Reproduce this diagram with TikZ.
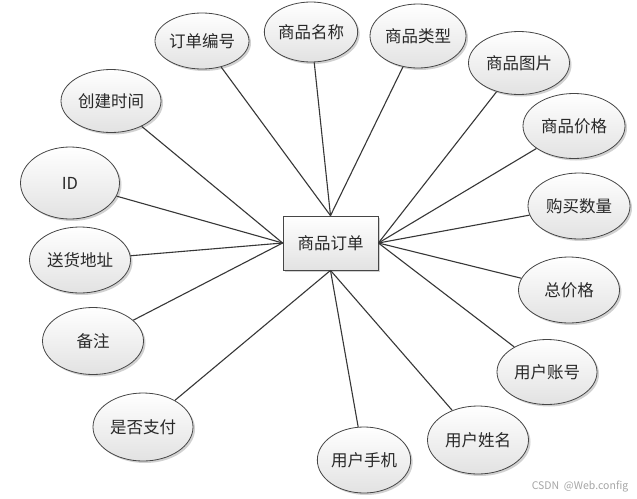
\documentclass[tikz,border=0pt]{standalone}
\usepackage{fontspec}
\setmainfont{Noto Sans CJK SC}
\usetikzlibrary{shapes.geometric,shadows}
\definecolor{edgec}{RGB}{70,70,70}
\definecolor{linec}{RGB}{55,55,55}
\definecolor{fillb}{RGB}{226,226,226}
\definecolor{textc}{RGB}{40,40,40}
\begin{document}
\begin{tikzpicture}[x=1pt,y=-1pt,
  attr/.style={ellipse, draw=edgec, line width=0.8pt, inner sep=0pt,
    top color=white, bottom color=fillb, text=textc,
    drop shadow={shadow xshift=2pt, shadow yshift=-2pt, fill=black!18, opacity=1},
    font=\fontsize{16.5}{19}\selectfont},
  entity/.style={rectangle, draw=edgec, line width=0.8pt, inner sep=0pt,
    top color=white, bottom color=fillb, text=textc,
    minimum width=95pt, minimum height=54pt,
    drop shadow={shadow xshift=2pt, shadow yshift=-2pt, fill=black!18, opacity=1},
    font=\fontsize{16.5}{19}\selectfont},
  link/.style={draw=linec, line width=1.1pt}]
\useasboundingbox (0,0) rectangle (637,498);
\fill[white] (0,0) rectangle (637,498);

\node[entity] (R) at (330.5,243) {商品订单};

\node[attr, minimum width=94pt, minimum height=56pt] (a1) at (202,41) {订单编号};
\node[attr, minimum width=93pt, minimum height=60pt] (a2) at (311,32) {商品名称};
\node[attr, minimum width=96pt, minimum height=64pt] (a3) at (418,36) {商品类型};
\node[attr, minimum width=101pt, minimum height=63pt] (a4) at (519,63) {商品图片};
\node[attr, minimum width=102pt, minimum height=65pt] (a5) at (574,126) {商品价格};
\node[attr, minimum width=102pt, minimum height=66pt] (a6) at (579,206) {购买数量};
\node[attr, minimum width=101pt, minimum height=66pt] (a7) at (569,290) {总价格};
\node[attr, minimum width=100pt, minimum height=65pt] (a8) at (547,372) {用户账号};
\node[attr, minimum width=101pt, minimum height=68pt] (a9) at (478,440) {用户姓名};
\node[attr, minimum width=92pt, minimum height=66pt] (a10) at (364,460) {用户手机};
\node[attr, minimum width=100pt, minimum height=68pt] (a11) at (143,427) {是否支付};
\node[attr, minimum width=101pt, minimum height=67pt] (a12) at (93,341) {备注};
\node[attr, minimum width=101pt, minimum height=66pt] (a13) at (80,260) {送货地址};
\node[attr, minimum width=99pt, minimum height=72pt] (a14) at (70,183) {ID};
\node[attr, minimum width=100pt, minimum height=63pt] (a15) at (111,101) {创建时间};

\foreach \n in {a1,a2,a3} \draw[link] (\n) -- (R.north);
\foreach \n in {a4,a5,a6,a7,a8} \draw[link] (\n) -- (R.east);
\foreach \n in {a9,a10,a11} \draw[link] (\n) -- (R.south);
\foreach \n in {a12,a13,a14,a15} \draw[link] (\n) -- (R.west);

\node[font=\fontsize{10.5}{12}\selectfont, text=black!35, inner sep=0pt] (wm) at (580,487) {CSDN\ \ @Web.config};
\end{tikzpicture}
\end{document}
